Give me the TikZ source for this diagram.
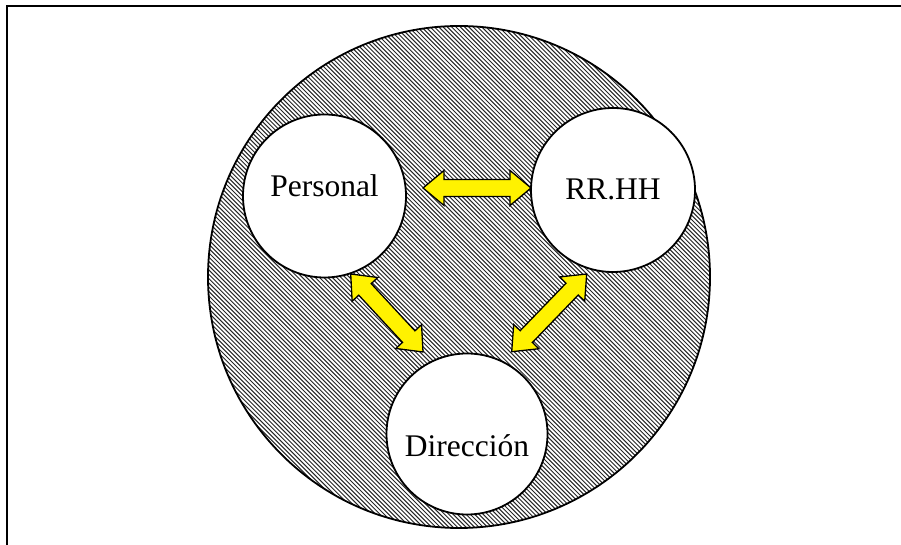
\documentclass[tikz,border=0pt]{standalone}
\usepackage{fontspec}
\setmainfont{Liberation Serif}
\usetikzlibrary{calc}
\tikzset{
  ring/.style={circle, draw=black, line width=1.8pt, fill=white, inner sep=0pt},
  ringtext/.style={font=\fontsize{31.5}{36}\selectfont, inner sep=0pt},
  arrowstyle/.style={draw=black, line width=1.3pt, fill=yellow, line join=miter},
  hatch/.style={line width=1pt, black!85},
  frame/.style={draw=black, line width=2pt}
}
\newcommand\dblarrow[2]{%
 \draw[arrowstyle] (#1)
 -- ($($(#1)!21pt!(#2)$)!17.5pt!90:(#2)$)
 -- ($($(#1)!21pt!(#2)$)!8.5pt!90:(#2)$)
 -- ($($(#2)!21pt!(#1)$)!8.5pt!-90:(#1)$)
 -- ($($(#2)!21pt!(#1)$)!17.5pt!-90:(#1)$)
 -- (#2)
 -- ($($(#2)!21pt!(#1)$)!17.5pt!90:(#1)$)
 -- ($($(#2)!21pt!(#1)$)!8.5pt!90:(#1)$)
 -- ($($(#1)!21pt!(#2)$)!8.5pt!-90:(#2)$)
 -- ($($(#1)!21pt!(#2)$)!17.5pt!-90:(#2)$)
 -- cycle;}
\begin{document}
\begin{tikzpicture}[x=1pt,y=1pt]
\useasboundingbox (0,0) rectangle (901,545);
\begin{scope}
\clip (0,0) rectangle (901,545);
\draw[frame] (7,-10) rectangle (910,539);
\end{scope}
% outer hatched circle
\coordinate (oc) at (459,268);
\begin{scope}
\clip (oc) circle (251);
\foreach \k in {200,204.3,...,1250} {
  \draw[hatch] (\k,0) -- (\k-600,600);
}
\end{scope}
\draw[line width=1.8pt] (oc) circle (251);
% inner circles
\node[ring, minimum size=163pt, label={[ringtext, yshift=10pt]center:Personal}] (per) at (324.5,349) {};
\node[ring, minimum size=164pt, label={[ringtext, yshift=1pt]center:RR.HH}] (rrhh) at (613,355) {};
\node[ring, minimum size=161pt, label={[ringtext, yshift=-12pt]center:Dirección}] (dir) at (467,111) {};
% arrows
\coordinate (h1) at (423,357);
\coordinate (h2) at (531,357);
\coordinate (l1) at (350.7,271);
\coordinate (l2) at (423,193);
\coordinate (r1) at (586.7,271);
\coordinate (r2) at (511.7,193.3);
\dblarrow{h1}{h2}
\dblarrow{l1}{l2}
\dblarrow{r1}{r2}
\end{tikzpicture}
\end{document}
